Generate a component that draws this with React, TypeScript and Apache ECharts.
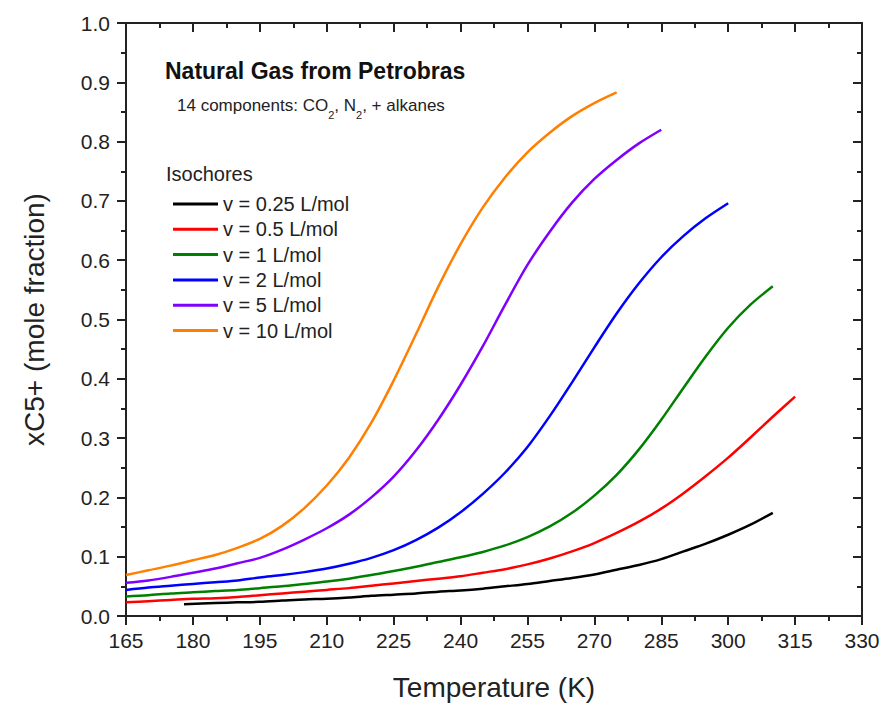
import React, { useEffect, useRef } from "react";
import * as echarts from "echarts";

const FONT = "'Liberation Sans', Arial, Helvetica, sans-serif";

const X_TICKS = { min: 165, max: 330, interval: 15 };
const Y_TICKS = { min: 0, max: 1, interval: 0.1 };

const SERIES_NAMES = [
  "v = 0.25 L/mol",
  "v = 0.5 L/mol",
  "v = 1 L/mol",
  "v = 2 L/mol",
  "v = 5 L/mol",
  "v = 10 L/mol",
];
const SERIES_COLORS = ["#000000", "#ff0000", "#008000", "#0000ff", "#8000ff", "#ff8000"];

const T_025 = [178, 185, 190, 195, 200, 205, 210, 215, 220, 225, 230, 235, 240, 245, 250, 255, 260, 265, 270, 275, 280, 285, 290, 295, 300, 305, 310];
const X_025 = [0.020, 0.022, 0.023, 0.024, 0.026, 0.028, 0.029, 0.031, 0.034, 0.036, 0.038, 0.041, 0.043, 0.046, 0.050, 0.054, 0.059, 0.064, 0.070, 0.078, 0.086, 0.096, 0.109, 0.122, 0.137, 0.154, 0.174];

const T_05 = [165, 170, 175, 180, 185, 190, 195, 200, 205, 210, 215, 220, 225, 230, 235, 240, 245, 250, 255, 260, 265, 270, 275, 280, 285, 290, 295, 300, 305, 310, 315];
const X_05 = [0.023, 0.025, 0.027, 0.029, 0.030, 0.032, 0.035, 0.038, 0.041, 0.044, 0.047, 0.051, 0.055, 0.059, 0.063, 0.067, 0.073, 0.079, 0.087, 0.097, 0.109, 0.123, 0.140, 0.159, 0.181, 0.207, 0.236, 0.267, 0.301, 0.336, 0.370];

const T_1 = [165, 170, 175, 180, 185, 190, 195, 200, 205, 210, 215, 220, 225, 230, 235, 240, 245, 250, 255, 260, 265, 270, 275, 280, 285, 290, 295, 300, 305, 310];
const X_1 = [0.033, 0.035, 0.038, 0.040, 0.042, 0.044, 0.047, 0.050, 0.054, 0.058, 0.063, 0.069, 0.076, 0.083, 0.091, 0.099, 0.108, 0.119, 0.133, 0.151, 0.174, 0.203, 0.238, 0.281, 0.331, 0.385, 0.438, 0.486, 0.525, 0.556];

const T_2 = [165, 170, 175, 180, 185, 190, 195, 200, 205, 210, 215, 220, 225, 230, 235, 240, 245, 250, 255, 260, 265, 270, 275, 280, 285, 290, 295, 300];
const X_2 = [0.044, 0.048, 0.051, 0.054, 0.057, 0.060, 0.065, 0.069, 0.074, 0.080, 0.088, 0.098, 0.111, 0.128, 0.149, 0.175, 0.206, 0.242, 0.285, 0.337, 0.394, 0.453, 0.510, 0.561, 0.605, 0.641, 0.671, 0.696];

const T_5 = [165, 170, 175, 180, 185, 190, 195, 200, 205, 210, 215, 220, 225, 230, 235, 240, 245, 250, 255, 260, 265, 270, 275, 280, 285];
const X_5 = [0.056, 0.060, 0.066, 0.073, 0.080, 0.089, 0.098, 0.112, 0.129, 0.148, 0.171, 0.200, 0.235, 0.279, 0.331, 0.390, 0.455, 0.525, 0.592, 0.648, 0.697, 0.737, 0.769, 0.797, 0.820];

const T_10 = [165, 170, 175, 180, 185, 190, 195, 200, 205, 210, 215, 220, 225, 230, 235, 240, 245, 250, 255, 260, 265, 270, 275];
const X_10 = [0.069, 0.077, 0.085, 0.094, 0.103, 0.115, 0.130, 0.152, 0.182, 0.220, 0.267, 0.326, 0.397, 0.475, 0.555, 0.627, 0.689, 0.740, 0.782, 0.815, 0.843, 0.865, 0.883];

const SERIES_T = [T_025, T_05, T_1, T_2, T_5, T_10];
const SERIES_X = [X_025, X_05, X_1, X_2, X_5, X_10];

const TITLE = "Natural Gas from Petrobras";
const X_NAME = "Temperature (K)";
const Y_NAME = "xC5+ (mole fraction)";
const LEGEND_TITLE = "Isochores";

const AXIS_COLOR = "#222222";

function xAxisDef(top: boolean) {
  return {
    type: "value",
    position: top ? "top" : "bottom",
    min: X_TICKS.min,
    max: X_TICKS.max,
    interval: X_TICKS.interval,
    axisLine: { show: true, onZero: false, lineStyle: { color: AXIS_COLOR, width: 2 } },
    axisTick: { show: true, inside: top, length: 9, lineStyle: { color: AXIS_COLOR, width: 2 } },
    minorTick: { show: true, splitNumber: 2, length: 5, lineStyle: { color: AXIS_COLOR, width: 2 } },
    splitLine: { show: false },
    axisLabel: {
      show: !top,
      fontSize: 21,
      color: AXIS_COLOR,
      margin: 14,
      fontFamily: FONT,
    },
    name: top ? "" : X_NAME,
    nameLocation: "middle",
    nameGap: 57,
    nameTextStyle: { fontSize: 28, color: AXIS_COLOR, fontFamily: FONT },
  };
}

function yAxisDef(right: boolean) {
  return {
    type: "value",
    position: right ? "right" : "left",
    min: Y_TICKS.min,
    max: Y_TICKS.max,
    interval: Y_TICKS.interval,
    axisLine: { show: true, onZero: false, lineStyle: { color: AXIS_COLOR, width: 2 } },
    axisTick: { show: true, inside: right, length: 9, lineStyle: { color: AXIS_COLOR, width: 2 } },
    minorTick: { show: true, splitNumber: 2, length: 5, lineStyle: { color: AXIS_COLOR, width: 2 } },
    splitLine: { show: false },
    axisLabel: {
      show: !right,
      fontSize: 21,
      color: AXIS_COLOR,
      margin: 16,
      fontFamily: FONT,
      formatter: (v: number) => v.toFixed(1),
    },
    name: right ? "" : Y_NAME,
    nameLocation: "middle",
    nameGap: 78,
    nameTextStyle: { fontSize: 28, color: AXIS_COLOR, fontFamily: FONT },
  };
}

export default function App() {
  const ref = useRef<HTMLDivElement>(null);
  useEffect(() => {
    if (!ref.current) return;
    const chart = echarts.init(ref.current, undefined, { renderer: "svg" });
    const series = SERIES_NAMES.map((name, i) => ({
      name,
      type: "line",
      xAxisIndex: 0,
      yAxisIndex: 0,
      smooth: 0.3,
      symbol: "none",
      showSymbol: false,
      lineStyle: { color: SERIES_COLORS[i], width: 2.5 },
      itemStyle: { color: SERIES_COLORS[i] },
      data: SERIES_T[i].map((t, j) => [t, SERIES_X[i][j]]),
    }));
    chart.setOption({
      animation: false,
      backgroundColor: "#ffffff",
      textStyle: { fontFamily: FONT },
      grid: { left: 126, right: 21, top: 23, bottom: 91, containLabel: false },
      xAxis: [xAxisDef(false), xAxisDef(true)],
      yAxis: [yAxisDef(false), yAxisDef(true)],
      legend: {
        orient: "vertical",
        left: 168,
        top: 189,
        icon: "rect",
        itemWidth: 45,
        itemHeight: 3,
        itemGap: 5.3,
        textStyle: { fontSize: 20, color: AXIS_COLOR, fontFamily: FONT, lineHeight: 20 },
        data: SERIES_NAMES,
      },
      graphic: [
        {
          type: "text",
          left: 165,
          top: 59,
          style: {
            text: TITLE,
            fontSize: 23,
            fontWeight: "bold",
            fill: "#111111",
            fontFamily: FONT,
          },
        },
        {
          type: "text",
          x: 177,
          y: 105.5,
          style: {
            text: "14 components: CO{sub|2}, N{sub|2}, + alkanes",
            fontSize: 17,
            fill: AXIS_COLOR,
            fontFamily: FONT,
            verticalAlign: "middle",
            rich: {
              sub: { fontSize: 11, lineHeight: 11, padding: [18, 0, 0, 0], fill: AXIS_COLOR, fontFamily: FONT },
            },
          },
        },
        {
          type: "text",
          x: 166,
          y: 174,
          style: {
            text: LEGEND_TITLE,
            fontSize: 20,
            fill: AXIS_COLOR,
            fontFamily: FONT,
            verticalAlign: "middle",
          },
        },
      ],
      series,
    });
    return () => chart.dispose();
  }, []);
  return (
    <div
      ref={ref}
      style={{ position: "fixed", left: 0, top: 0, width: 883, height: 707 }}
    />
  );
}
